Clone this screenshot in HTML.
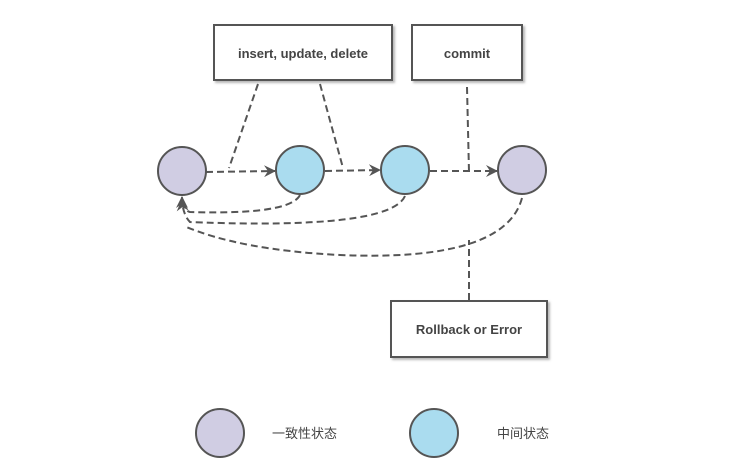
<!DOCTYPE html>
<html><head><meta charset="utf-8"><style>
body{margin:0;background:#fff;width:729px;height:469px;overflow:hidden}
svg{display:block}
text{font-family:"Liberation Sans","Noto Sans CJK SC",sans-serif;fill:#444}
</style></head><body>
<svg width="729" height="469" viewBox="0 0 729 469">
<defs>
<marker id="a" markerWidth="13" markerHeight="12" refX="11" refY="6" orient="auto" markerUnits="userSpaceOnUse"><path d="M0,0 L12,6 L0,12 L4,6z" fill="#555"/></marker>
<filter id="s"><feDropShadow dx="2" dy="2" stdDeviation="1" flood-color="#888" flood-opacity="0.6"/></filter>
</defs>
<g stroke="#555" stroke-width="2" fill="#fff" filter="url(#s)">
<rect x="214" y="25" width="178" height="55"/>
<rect x="412" y="25" width="110" height="55"/>
<rect x="391" y="301" width="156" height="56"/>
</g>
<text x="303" y="58" font-size="13" font-weight="bold" text-anchor="middle">insert, update, delete</text>
<text x="467" y="58" font-size="13" font-weight="bold" text-anchor="middle">commit</text>
<text x="469" y="334" font-size="13" font-weight="bold" text-anchor="middle">Rollback or Error</text>
<g stroke="#555" stroke-width="2" fill="none" stroke-dasharray="7,4">
<path d="M258,84 L229,168"/>
<path d="M320,84 L343,168"/>
<path d="M467,87 L469,172"/>
<path d="M206,172 L275,171" marker-end="url(#a)"/>
<path d="M325,171 L380,170" marker-end="url(#a)"/>
<path d="M430,171 L497,171" marker-end="url(#a)"/>
<path d="M300,195 Q290,215 190,212 Q182,210 182,197" marker-end="url(#a)"/>
<path d="M405,196 Q390,230 190,222 Q183,215 182,200" marker-end="url(#a)"/>
<path d="M522,198 Q505,262 340,255 Q240,250 184,226"/>
<path d="M469,300 L469,240"/>
</g>
<g stroke="#555" stroke-width="2">
<circle cx="182" cy="171" r="24" fill="#d0cde3"/>
<circle cx="300" cy="170" r="24" fill="#aadcef"/>
<circle cx="405" cy="170" r="24" fill="#aadcef"/>
<circle cx="522" cy="170" r="24" fill="#d0cde3"/>
<circle cx="220" cy="433" r="24" fill="#d0cde3"/>
<circle cx="434" cy="433" r="24" fill="#aadcef"/>
</g>
<text x="272" y="438" font-size="13">一致性状态</text>
<text x="497" y="438" font-size="13">中间状态</text>
</svg>
</body></html>
